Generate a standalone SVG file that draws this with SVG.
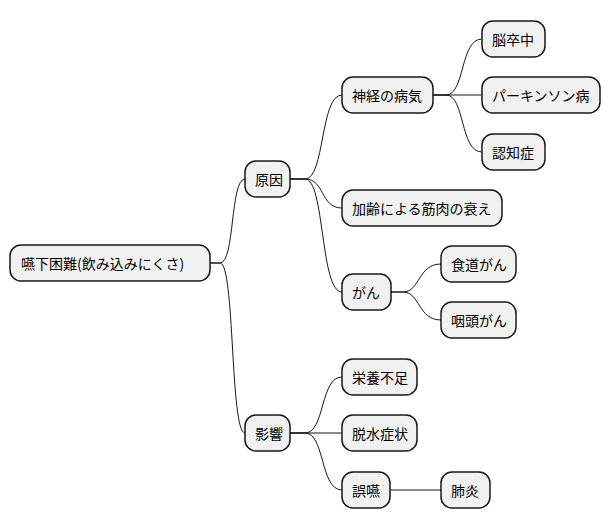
<svg xmlns="http://www.w3.org/2000/svg" width="611" height="527" viewBox="0 0 611 527">
<style>
.n rect{fill:#F1F1F1;stroke:#181818;stroke-width:1.5}
.n text{font-family:"Noto Sans CJK JP","Noto Sans",sans-serif;font-size:14px;fill:#000;dominant-baseline:central}
.c path{fill:none;stroke:#181818;stroke-width:1}
</style>
<rect width="611" height="527" fill="#fff"/>
<g class="c">
<path d="M210 263 H220 C235 263 230 179 245 179"/>
<path d="M210 263 H220 C235 263 230 433 245 433"/>
<path d="M290 179 H305 C325 179 320 95 342 95"/>
<path d="M290 179 H305 C325 179 320 208 342 208"/>
<path d="M290 179 H305 C325 179 320 292 342 292"/>
<path d="M433 95 H446 C465 95 460 39 482 39"/>
<path d="M433 95 H482"/>
<path d="M433 95 H446 C465 95 460 152 482 152"/>
<path d="M391 292 H403 C420 292 418 264 441 264"/>
<path d="M391 292 H403 C420 292 418 320 441 320"/>
<path d="M290 433 H305 C325 433 320 377 342 377"/>
<path d="M290 433 H342"/>
<path d="M290 433 H305 C325 433 320 490 342 490"/>
<path d="M390 490 H441"/>
</g>
<g class="n" id="root"><rect x="10" y="245" width="200" height="36" rx="11"/><text x="21" y="263">嚥下困難(飲み込みにくさ)</text></g>
<g class="n" id="cause"><rect x="245" y="161" width="45" height="36" rx="11"/><text x="255" y="179">原因</text></g>
<g class="n" id="effect"><rect x="245" y="415" width="45" height="36" rx="11"/><text x="255" y="433">影響</text></g>
<g class="n" id="nerve"><rect x="342" y="77" width="91" height="36" rx="11"/><text x="352" y="95">神経の病気</text></g>
<g class="n" id="aging"><rect x="342" y="190" width="160" height="36" rx="11"/><text x="352" y="208">加齢による筋肉の衰え</text></g>
<g class="n" id="cancer"><rect x="342" y="274" width="49" height="36" rx="11"/><text x="352" y="292">がん</text></g>
<g class="n" id="stroke"><rect x="482" y="21" width="63" height="36" rx="11"/><text x="492" y="39">脳卒中</text></g>
<g class="n" id="parkinson"><rect x="482" y="77" width="118" height="36" rx="11"/><text x="492" y="95">パーキンソン病</text></g>
<g class="n" id="dementia"><rect x="482" y="134" width="63" height="36" rx="11"/><text x="492" y="152">認知症</text></g>
<g class="n" id="esoph"><rect x="441" y="246" width="75" height="36" rx="11"/><text x="451" y="264">食道がん</text></g>
<g class="n" id="pharynx"><rect x="441" y="302" width="75" height="36" rx="11"/><text x="451" y="320">咽頭がん</text></g>
<g class="n" id="nutrition"><rect x="342" y="359" width="75" height="36" rx="11"/><text x="352" y="377">栄養不足</text></g>
<g class="n" id="dehydr"><rect x="342" y="415" width="75" height="36" rx="11"/><text x="352" y="433">脱水症状</text></g>
<g class="n" id="aspir"><rect x="342" y="472" width="48" height="36" rx="11"/><text x="352" y="490">誤嚥</text></g>
<g class="n" id="pneu"><rect x="441" y="472" width="49" height="36" rx="11"/><text x="451" y="490">肺炎</text></g>
</svg>
